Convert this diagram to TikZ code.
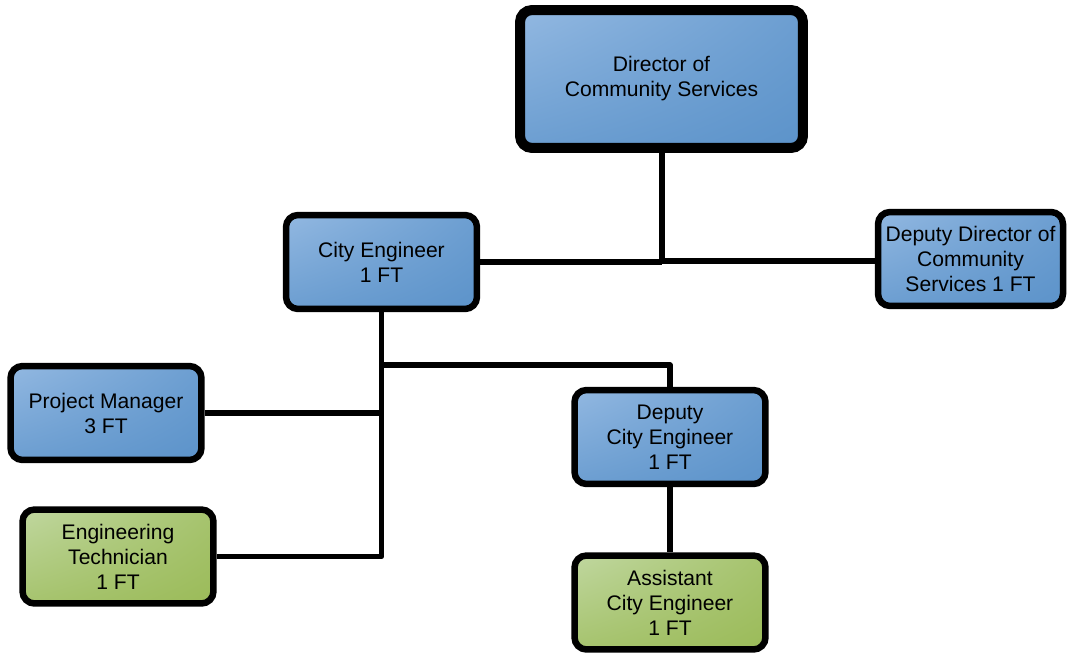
\documentclass[tikz,border=0pt]{standalone}
\usepackage{fontspec}
\setmainfont{Liberation Sans}
\usepackage{tikz}
\usetikzlibrary{shadings}
\definecolor{bleuclair}{HTML}{92B8E1}
\definecolor{bleufonce}{HTML}{5C93CA}
\definecolor{vertclair}{HTML}{C0D79F}
\definecolor{vertfonce}{HTML}{9BBB59}
\begin{document}
\begin{tikzpicture}[x=0.02cm, y=0.02cm]
\tikzset{poste/.style={draw, rounded corners=0.24cm, line width=0.13cm, align=center, font=\fontsize{12}{14.2}\selectfont, minimum width=3.82cm, minimum height=1.88cm, inner sep=0pt, upper left=bleuclair, upper right=bleuclair!30!bleufonce, lower left=bleuclair!30!bleufonce, lower right=bleufonce}}
\tikzset{postevert/.style={poste, upper left=vertclair, upper right=vertclair!30!vertfonce, lower left=vertclair!30!vertfonce, lower right=vertfonce}}
\tikzset{lien/.style={line width=0.11cm, line join=round}}
\useasboundingbox (0, 0) rectangle (1067, -655);
\node[poste, line width=0.2cm, minimum width=5.66cm, minimum height=2.76cm] (D) at (661.5, -79) {Director of\\Community Services};
\node[poste] (CE) at (381.5, -262) {City Engineer\\1 FT};
\node[poste, minimum width=3.7cm] (DD) at (970.5, -259) {Deputy Director of\\Community\\Services 1 FT};
\node[poste] (PM) at (106, -413) {Project Manager\\3 FT};
\node[postevert] (ET) at (118, -556.5) {Engineering\\Technician\\1 FT};
\node[poste] (DCE) at (670, -437) {Deputy\\City Engineer\\1 FT};
\node[postevert] (ACE) at (670, -602.5) {Assistant\\City Engineer\\1 FT};
\coordinate (J1) at (662, -261);
\coordinate (J2) at (382, -365);
\draw[lien] (D.south -| J1) -- (J1) -- (J1 -| DD.west);
\draw[lien] (CE.east) -- (CE.east -| J1);
\draw[lien] (CE.south) -- (CE.south |- ET.east) -- (ET.east);
\draw[lien] (PM.east) -- (PM.east -| CE.south);
\draw[lien] (J2) -- (J2 -| DCE.north) -- (DCE.north);
\draw[lien] (DCE.south) -- (ACE.north);
\end{tikzpicture}
\end{document}
